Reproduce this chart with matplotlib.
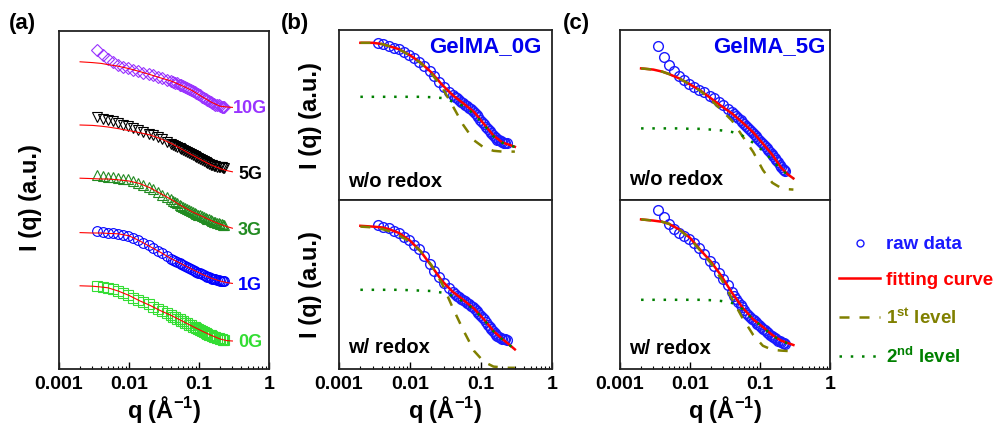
import numpy as np
import matplotlib
matplotlib.use('Agg')
import matplotlib.pyplot as plt
from matplotlib.ticker import LogLocator, NullFormatter

# 字体：粗体 Arial 风格
plt.rcParams['font.family'] = ['Liberation Sans', 'DejaVu Sans']
plt.rcParams['font.weight'] = 'bold'
plt.rcParams['axes.labelweight'] = 'bold'
plt.rcParams['mathtext.fontset'] = 'custom'
plt.rcParams['mathtext.rm'] = 'Liberation Sans:bold'
plt.rcParams['mathtext.bf'] = 'Liberation Sans:bold'
plt.rcParams['mathtext.it'] = 'Liberation Sans:bold'

# q grids (1/Å)
q_raw = [0.0035, 0.0042, 0.005, 0.006, 0.007, 0.0083, 0.0098, 0.0115, 0.0135, 0.016,
         0.019, 0.022, 0.026, 0.030, 0.035, 0.040, 0.043, 0.046, 0.049, 0.053,
         0.056, 0.060, 0.064, 0.068, 0.072, 0.077, 0.082, 0.087, 0.092, 0.098,
         0.104, 0.11, 0.117, 0.125, 0.132, 0.14, 0.147, 0.155, 0.162, 0.17,
         0.18, 0.19, 0.20, 0.21, 0.22, 0.23]
q_fit = [0.002, 0.003, 0.004, 0.005, 0.007, 0.01, 0.014, 0.02, 0.028, 0.04,
         0.056, 0.08, 0.11, 0.15, 0.2, 0.25, 0.3]

# (a) stacked curves, log10 of I (a.u., offset)
samples = ['10G', '5G', '3G', '1G', '0G']
colors_a = ['#9933FF', '#000000', '#228B22', '#0000FF', '#33DD33']
markers_a = ['D', 'v', '^', 'o', 's']
logI_a = [
    [7.97, 7.85, 7.75, 7.67, 7.61, 7.56, 7.52, 7.48, 7.45, 7.41, 7.37, 7.34, 7.30, 7.27, 7.23,
     7.20, 7.18, 7.16, 7.14, 7.11, 7.09, 7.07, 7.05, 7.03, 7.00, 6.98, 6.95, 6.92, 6.90, 6.87, 6.84,
     6.81, 6.78, 6.75, 6.72, 6.70, 6.67, 6.65, 6.63, 6.61, 6.60, 6.59, 6.57, 6.56, 6.55, 6.54],
    [6.31, 6.26, 6.23, 6.19, 6.16, 6.11, 6.07, 6.03, 5.98, 5.93, 5.88, 5.84, 5.79, 5.74, 5.68,
     5.63, 5.60, 5.57, 5.55, 5.52, 5.50, 5.47, 5.45, 5.43, 5.40, 5.37, 5.35, 5.32, 5.30, 5.27, 5.25,
     5.22, 5.20, 5.17, 5.15, 5.13, 5.11, 5.10, 5.08, 5.07, 5.06, 5.05, 5.04, 5.04, 5.03, 5.02],
    [4.84, 4.82, 4.81, 4.80, 4.78, 4.76, 4.74, 4.70, 4.66, 4.60, 4.54, 4.49, 4.42, 4.36, 4.30,
     4.24, 4.20, 4.17, 4.14, 4.11, 4.08, 4.05, 4.02, 4.00, 3.97, 3.95, 3.92, 3.90, 3.88, 3.86, 3.84,
     3.82, 3.80, 3.77, 3.75, 3.74, 3.72, 3.70, 3.68, 3.67, 3.65, 3.64, 3.63, 3.62, 3.61, 3.60],
    [3.45, 3.43, 3.41, 3.39, 3.38, 3.36, 3.32, 3.28, 3.23, 3.16, 3.09, 3.03, 2.96, 2.89, 2.82,
     2.76, 2.73, 2.70, 2.67, 2.65, 2.62, 2.60, 2.57, 2.55, 2.53, 2.51, 2.48, 2.46, 2.43, 2.41, 2.39,
     2.37, 2.34, 2.32, 2.30, 2.29, 2.27, 2.26, 2.25, 2.24, 2.23, 2.22, 2.21, 2.21, 2.20, 2.20],
    [2.07, 2.05, 2.02, 1.99, 1.95, 1.91, 1.85, 1.78, 1.73, 1.67, 1.62, 1.56, 1.50, 1.45, 1.39,
     1.34, 1.31, 1.29, 1.26, 1.24, 1.21, 1.19, 1.16, 1.14, 1.11, 1.09, 1.06, 1.04, 1.02, 1.00, 0.97,
     0.95, 0.92, 0.90, 0.88, 0.86, 0.84, 0.82, 0.81, 0.80, 0.78, 0.77, 0.75, 0.74, 0.73, 0.73],
]
fit_a = [
    [7.68, 7.66, 7.64, 7.61, 7.57, 7.51, 7.44, 7.36, 7.28, 7.20, 7.09, 6.96, 6.81, 6.67, 6.57, 6.55, 6.54],
    [6.10, 6.09, 6.07, 6.05, 6.01, 5.96, 5.91, 5.85, 5.76, 5.64, 5.50, 5.35, 5.22, 5.10, 5.01, 4.96, 4.93],
    [4.77, 4.76, 4.75, 4.75, 4.73, 4.70, 4.64, 4.53, 4.39, 4.24, 4.08, 3.93, 3.82, 3.71, 3.62, 3.56, 3.52],
    [3.41, 3.40, 3.40, 3.39, 3.38, 3.33, 3.21, 3.06, 2.92, 2.76, 2.63, 2.49, 2.37, 2.27, 2.20, 2.16, 2.14],
    [2.08, 2.07, 2.05, 2.03, 1.95, 1.84, 1.71, 1.59, 1.46, 1.34, 1.21, 1.07, 0.95, 0.84, 0.75, 0.71, 0.70],
]

# (b) GelMA_0G
raw_0G_wo = [3.92, 3.89, 3.85, 3.81, 3.77, 3.70, 3.63, 3.54, 3.46, 3.34, 3.23, 3.11, 2.95, 2.83, 2.71,
             2.62, 2.58, 2.54, 2.50, 2.45, 2.42, 2.38, 2.35, 2.31, 2.27, 2.23, 2.18, 2.13, 2.07, 2.01, 1.96,
             1.90, 1.83, 1.77, 1.72, 1.67, 1.62, 1.58, 1.54, 1.51, 1.49, 1.47, 1.45, 1.43, 1.42, 1.42]
fit_0G_wo = [3.93, 3.93, 3.90, 3.85, 3.77, 3.62, 3.44, 3.19, 2.89, 2.62, 2.42, 2.20, 1.90, 1.61, 1.44, 1.38, 1.33]
lv1_0G_wo = [3.93, 3.93, 3.90, 3.85, 3.77, 3.61, 3.43, 3.16, 2.83, 2.35, 1.88, 1.49, 1.31, 1.23, 1.21, 1.21, 1.21]
lv2_0G_wo = [2.58, 2.58, 2.58, 2.58, 2.58, 2.58, 2.58, 2.57, 2.55, 2.46, 2.35, 2.15, 1.88, 1.59, 1.43, 1.36, 1.33]

raw_0G_w = [3.59, 3.56, 3.53, 3.46, 3.40, 3.31, 3.23, 3.11, 2.99, 2.83, 2.63, 2.46, 2.30, 2.16, 2.03,
            1.93, 1.88, 1.83, 1.79, 1.75, 1.72, 1.69, 1.66, 1.63, 1.58, 1.54, 1.50, 1.45, 1.40, 1.35, 1.30,
            1.24, 1.17, 1.11, 1.05, 1.00, 0.95, 0.90, 0.86, 0.83, 0.80, 0.78, 0.76, 0.75, 0.74, 0.73]
fit_0G_w = [3.58, 3.56, 3.54, 3.50, 3.40, 3.21, 2.95, 2.58, 2.21, 1.93, 1.73, 1.51, 1.24, 0.95, 0.75, 0.61, 0.49]
lv1_0G_w = [3.56, 3.54, 3.50, 3.45, 3.34, 3.18, 2.95, 2.60, 2.15, 1.53, 0.98, 0.45, 0.18, 0.06, 0.04, 0.03, 0.03]
lv2_0G_w = [1.98, 1.98, 1.98, 1.98, 1.98, 1.97, 1.96, 1.95, 1.91, 1.83, 1.69, 1.49, 1.23, 0.94, 0.74, 0.60, 0.49]

# (c) GelMA_5G
raw_5G_wo = [3.84, 3.58, 3.38, 3.23, 3.11, 3.01, 2.91, 2.83, 2.75, 2.69, 2.61, 2.55, 2.46, 2.38, 2.28,
             2.19, 2.14, 2.09, 2.04, 1.99, 1.95, 1.90, 1.85, 1.80, 1.75, 1.70, 1.65, 1.60, 1.55, 1.50, 1.45,
             1.40, 1.35, 1.29, 1.24, 1.19, 1.14, 1.09, 1.04, 0.99, 0.94, 0.88, 0.83, 0.78, 0.75, 0.73]
fit_5G_wo = [3.29, 3.26, 3.21, 3.15, 3.04, 2.89, 2.74, 2.54, 2.35, 2.16, 1.94, 1.69, 1.41, 1.13, 0.81, 0.64, 0.54]
lv1_5G_wo = [3.29, 3.26, 3.21, 3.15, 3.04, 2.89, 2.73, 2.50, 2.25, 1.98, 1.60, 1.20, 0.75, 0.43, 0.30, 0.27, 0.26]
lv2_5G_wo = [1.79, 1.79, 1.79, 1.79, 1.79, 1.78, 1.78, 1.76, 1.74, 1.70, 1.61, 1.43, 1.23, 0.99, 0.76, 0.63, 0.54]

raw_5G_w = [3.98, 3.80, 3.63, 3.49, 3.41, 3.33, 3.24, 3.14, 3.03, 2.88, 2.71, 2.58, 2.41, 2.26, 2.09,
            1.93, 1.83, 1.74, 1.67, 1.60, 1.54, 1.48, 1.41, 1.35, 1.30, 1.26, 1.22, 1.18, 1.13, 1.09, 1.05,
            1.01, 0.97, 0.93, 0.90, 0.86, 0.83, 0.80, 0.77, 0.74, 0.71, 0.69, 0.67, 0.65, 0.64, 0.63]
fit_5G_w = [3.74, 3.71, 3.68, 3.63, 3.49, 3.28, 2.98, 2.68, 2.33, 1.90, 1.54, 1.24, 1.05, 0.85, 0.71, 0.65, 0.60]
lv1_5G_w = [3.74, 3.71, 3.68, 3.63, 3.49, 3.26, 2.96, 2.64, 2.25, 1.75, 1.28, 0.85, 0.58, 0.48, 0.46, 0.45, 0.45]
lv2_5G_w = [1.73, 1.73, 1.73, 1.73, 1.73, 1.73, 1.73, 1.72, 1.70, 1.65, 1.50, 1.24, 1.04, 0.84, 0.70, 0.64, 0.59]

xtick_vals = [0.001, 0.01, 0.1, 1]
xtick_labels = ['0.001', '0.01', '0.1', '1']

BLUE = '#1a1aff'
RED = '#ff0000'
OLIVE = '#808000'
GREEN = '#008000'

W, H = 993, 426
fig = plt.figure(figsize=(W / 100, H / 100), dpi=100)


def add_ax(x0, y0, x1, y1):
    # 以像素给出坐标框位置
    return fig.add_axes([x0 / W, 1 - y1 / H, (x1 - x0) / W, (y1 - y0) / H])


def style(ax, top_decades, show_x=True):
    ax.set_xscale('log')
    ax.set_yscale('log')
    ax.set_xlim(0.001, 1)
    ax.set_ylim(1, 10 ** top_decades)
    for s in ax.spines.values():
        s.set_linewidth(1.3)
        s.set_color('#222222')
    ax.tick_params(axis='y', which='both', left=False, right=False, labelleft=False)
    if show_x:
        ax.set_xticks(xtick_vals)
        ax.set_xticklabels(xtick_labels)
        ax.xaxis.set_minor_locator(LogLocator(base=10, subs=range(2, 10)))
        ax.xaxis.set_minor_formatter(NullFormatter())
        ax.tick_params(axis='x', which='major', direction='in', length=5, width=1,
                       top=False, labelsize=14, pad=5)
        ax.tick_params(axis='x', which='minor', direction='in', length=2.5, width=0.8, top=False)
        ax.set_xlabel(r'q (Å$^{\mathbf{-1}}$)', fontsize=17, labelpad=1)
    else:
        ax.tick_params(axis='x', which='both', bottom=False, top=False, labelbottom=False)


def pow10(v):
    return 10 ** np.array(v)


# ---- (a)
ax_a = add_ax(59, 31, 269, 369)
style(ax_a, 8.45)
label_y = [0.772, 0.574, 0.411, 0.246, 0.077]
for name, col, mk, raw, fit, ly in zip(samples, colors_a, markers_a, logI_a, fit_a, label_y):
    ax_a.plot(q_raw, pow10(raw), linestyle='none', marker=mk, ms=7 if mk != 'D' else 6,
              mfc='none', mec=col, mew=0.8)
    ax_a.plot(q_fit, pow10(fit), color=RED, lw=0.8)
    ax_a.text(0.91, ly, name, color=col, fontsize=13, ha='center', va='center',
              transform=ax_a.transAxes)


def panel(ax, raw, fit, lv1, lv2):
    h_raw, = ax.plot(q_raw, pow10(raw), linestyle='none', marker='o', ms=7,
                     mfc='none', mec=BLUE, mew=1.0)
    h_fit, = ax.plot(q_fit, pow10(fit), color=RED, lw=1.8)
    h_l1, = ax.plot(q_fit, pow10(lv1), color=OLIVE, lw=1.8, linestyle=(0, (4, 4)))
    h_l2, = ax.plot(q_fit, pow10(lv2), color=GREEN, lw=1.8, linestyle=(0, (1, 3.5)))
    return [h_raw, h_fit, h_l1, h_l2]


# ---- (b)
ax_b1 = add_ax(339, 30, 552, 200)
style(ax_b1, 4.25, show_x=False)
handles = panel(ax_b1, raw_0G_wo, fit_0G_wo, lv1_0G_wo, lv2_0G_wo)
ax_b2 = add_ax(339, 200, 552, 369)
style(ax_b2, 4.225)
panel(ax_b2, raw_0G_w, fit_0G_w, lv1_0G_w, lv2_0G_w)
ax_b1.text(0.688, 0.9, 'GelMA_0G', color='#0000EE', fontsize=16, ha='center', va='center',
           transform=ax_b1.transAxes)
ax_b1.text(0.042, 0.106, 'w/o redox', fontsize=14.5, ha='left', va='center', transform=ax_b1.transAxes)
ax_b2.text(0.042, 0.13, 'w/ redox', fontsize=14.5, ha='left', va='center', transform=ax_b2.transAxes)

# ---- (c)
ax_c1 = add_ax(620, 30, 830, 200)
style(ax_c1, 4.25, show_x=False)
panel(ax_c1, raw_5G_wo, fit_5G_wo, lv1_5G_wo, lv2_5G_wo)
ax_c2 = add_ax(620, 200, 830, 369)
style(ax_c2, 4.225)
panel(ax_c2, raw_5G_w, fit_5G_w, lv1_5G_w, lv2_5G_w)
ax_c1.text(0.712, 0.9, 'GelMA_5G', color='#0000EE', fontsize=16, ha='center', va='center',
           transform=ax_c1.transAxes)
ax_c1.text(0.043, 0.118, 'w/o redox', fontsize=14.5, ha='left', va='center', transform=ax_c1.transAxes)
ax_c2.text(0.043, 0.124, 'w/ redox', fontsize=14.5, ha='left', va='center', transform=ax_c2.transAxes)

# y 轴标签与面板编号
fig.text(31 / W, 1 - 198 / H, 'I (q) (a.u.)', fontsize=17, rotation=90, ha='center', va='center')
fig.text(311 / W, 1 - 116 / H, 'I (q) (a.u.)', fontsize=17, rotation=90, ha='center', va='center')
fig.text(311 / W, 1 - 285 / H, 'I (q) (a.u.)', fontsize=17, rotation=90, ha='center', va='center')
fig.text(22 / W, 1 - 24 / H, '(a)', fontsize=16, ha='center', va='center')
fig.text(295 / W, 1 - 24 / H, '(b)', fontsize=16, ha='center', va='center')
fig.text(576 / W, 1 - 24 / H, '(c)', fontsize=16, ha='center', va='center')

# 图例
leg_labels = ['raw data', 'fitting curve', r'$\mathbf{1^{st}}$ level', r'$\mathbf{2^{nd}}$ level']
leg = fig.legend(handles, leg_labels, loc='upper left', bbox_to_anchor=(839 / W, 1 - 236 / H),
                 frameon=False, fontsize=13.5, numpoints=1, handlelength=2.2,
                 handletextpad=0.3, labelspacing=1.0, borderpad=0, borderaxespad=0)
for txt, col in zip(leg.get_texts(), [BLUE, RED, OLIVE, GREEN]):
    txt.set_color(col)
leg.legend_handles[0].set_markersize(5)

fig.savefig('out.png', dpi=100)
